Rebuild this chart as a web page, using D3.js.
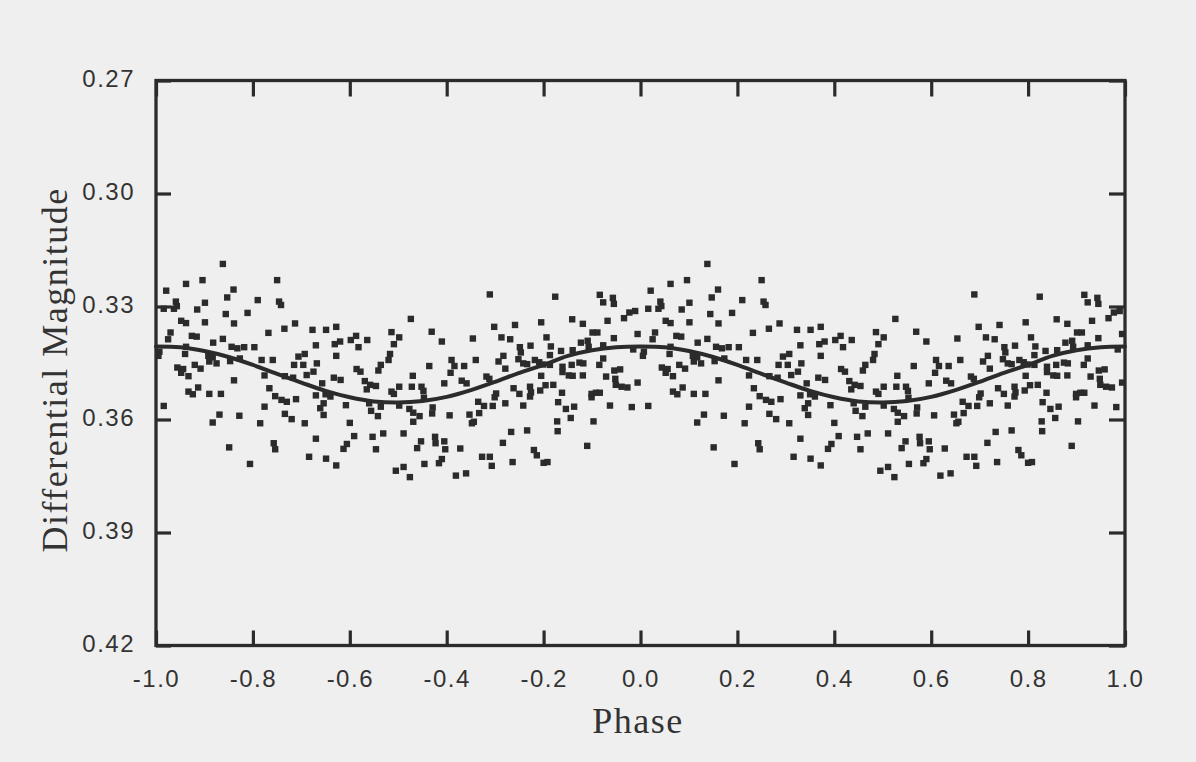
<!DOCTYPE html>
<html>
<head>
<meta charset="utf-8">
<script src="https://cdn.jsdelivr.net/npm/d3@7"></script>
<style>
body { margin: 0; background: #efefef; }
</style>
</head>
<body>
<div id="chart"></div>
<script>
// one cycle of the light curve, phase -1..0 (plotted twice, second copy shifted by +1)
const phase = [
-0.862,-0.938,-0.904,-0.750,-0.979,-0.840,-0.853,-0.899,-0.790,-0.746,-0.742,-0.959,-0.984,-0.963,-0.957,-0.915,
-0.856,-0.811,-0.948,-0.938,-0.899,-0.839,-0.713,-0.735,-0.677,-0.970,-0.768,-0.926,-0.916,-0.975,-0.862,-0.882,
-0.670,-0.844,-0.832,-0.818,-0.797,-0.938,-0.993,-0.995,-0.940,-0.892,-0.883,-0.890,-0.875,-0.847,-0.827,-0.782,
-0.759,-0.706,-0.693,-0.668,-0.956,-0.944,-0.948,-0.920,-0.908,-0.715,-0.696,-0.933,-0.776,-0.675,-0.689,-0.734,
-0.717,-0.839,-0.913,-0.766,-0.933,-0.924,-0.890,-0.866,-0.754,-0.741,-0.730,-0.711,-0.670,-0.984,-0.776,-0.869,
-0.828,-0.734,-0.720,-0.883,-0.785,-0.693,-0.670,-0.849,-0.757,-0.754,-0.684,-0.806,
-0.474,-0.649,-0.628,-0.514,-0.498,-0.431,-0.346,-0.410,-0.631,-0.620,-0.598,-0.587,-0.564,-0.582,-0.509,-0.628,
-0.517,-0.520,-0.390,-0.340,-0.536,-0.541,-0.436,-0.384,-0.364,-0.392,-0.586,-0.578,-0.633,-0.619,-0.470,-0.405,
-0.369,-0.359,-0.657,-0.569,-0.558,-0.546,-0.565,-0.498,-0.514,-0.509,-0.472,-0.452,-0.448,-0.447,-0.650,-0.640,
-0.654,-0.661,-0.654,-0.608,-0.560,-0.536,-0.498,-0.556,-0.542,-0.477,-0.469,-0.456,-0.469,-0.429,-0.430,-0.394,
-0.353,-0.348,-0.344,-0.600,-0.591,-0.553,-0.531,-0.489,-0.606,-0.613,-0.546,-0.453,-0.461,-0.424,-0.423,-0.405,
-0.403,-0.372,-0.649,-0.628,-0.410,-0.416,-0.446,-0.505,-0.489,-0.476,-0.381,-0.360,-0.335,
-0.311,-0.176,-0.084,-0.057,-0.077,-0.055,-0.302,-0.259,-0.205,-0.141,-0.119,-0.068,-0.034,-0.023,-0.011,-0.287,
-0.269,-0.194,-0.099,-0.089,-0.055,-0.006,-0.249,-0.227,-0.247,-0.185,-0.187,-0.164,-0.140,-0.123,-0.109,-0.107,
-0.077,-0.015,-0.283,-0.293,-0.279,-0.252,-0.242,-0.234,-0.218,-0.209,-0.201,-0.187,-0.161,-0.142,-0.126,-0.118,
-0.085,-0.077,-0.318,-0.312,-0.205,-0.161,-0.148,-0.140,-0.119,-0.071,-0.054,-0.042,-0.052,-0.051,-0.262,-0.298,
-0.301,-0.250,-0.228,-0.226,-0.228,-0.207,-0.196,-0.180,-0.162,-0.101,-0.092,-0.084,-0.101,-0.039,-0.027,-0.006,
-0.323,-0.305,-0.279,-0.242,-0.170,-0.154,-0.137,-0.063,-0.018,-0.333,-0.172,-0.144,-0.097,-0.171,-0.267,-0.234,
-0.284,-0.220,-0.214,-0.110,-0.327,-0.311,-0.307,-0.264,-0.200,-0.192
];
const mag = [
0.3187,0.3240,0.3230,0.3230,0.3258,0.3255,0.3276,0.3290,0.3283,0.3287,0.3296,0.3287,0.3306,0.3306,0.3299,0.3308,
0.3320,0.3317,0.3338,0.3344,0.3342,0.3345,0.3345,0.3359,0.3362,0.3369,0.3370,0.3378,0.3380,0.3387,0.3386,0.3396,
0.3403,0.3407,0.3411,0.3408,0.3408,0.3407,0.3420,0.3431,0.3426,0.3431,0.3435,0.3446,0.3451,0.3445,0.3438,0.3442,
0.3442,0.3433,0.3426,0.3451,0.3462,0.3466,0.3476,0.3455,0.3465,0.3455,0.3455,0.3485,0.3483,0.3473,0.3482,0.3485,
0.3489,0.3496,0.3515,0.3517,0.3526,0.3533,0.3532,0.3532,0.3538,0.3548,0.3553,0.3546,0.3536,0.3564,0.3566,0.3587,
0.3590,0.3585,0.3599,0.3608,0.3610,0.3610,0.3651,0.3674,0.3663,0.3679,0.3699,0.3718,
0.3333,0.3362,0.3354,0.3368,0.3382,0.3367,0.3385,0.3393,0.3400,0.3393,0.3389,0.3378,0.3389,0.3408,0.3400,0.3431,
0.3426,0.3442,0.3442,0.3442,0.3455,0.3470,0.3458,0.3458,0.3458,0.3476,0.3466,0.3473,0.3489,0.3495,0.3484,0.3504,
0.3497,0.3504,0.3504,0.3498,0.3508,0.3511,0.3520,0.3513,0.3526,0.3532,0.3513,0.3513,0.3524,0.3542,0.3533,0.3539,
0.3557,0.3570,0.3588,0.3562,0.3557,0.3566,0.3563,0.3577,0.3591,0.3572,0.3582,0.3591,0.3606,0.3568,0.3584,0.3589,
0.3587,0.3610,0.3606,0.3609,0.3644,0.3646,0.3637,0.3637,0.3665,0.3678,0.3679,0.3658,0.3676,0.3646,0.3663,0.3658,
0.3679,0.3677,0.3704,0.3722,0.3705,0.3716,0.3718,0.3736,0.3726,0.3753,0.3749,0.3743,0.3553,
0.3268,0.3274,0.3269,0.3277,0.3289,0.3293,0.3354,0.3349,0.3342,0.3334,0.3346,0.3338,0.3331,0.3316,0.3312,0.3382,
0.3387,0.3382,0.3369,0.3369,0.3384,0.3373,0.3408,0.3404,0.3422,0.3406,0.3429,0.3418,0.3416,0.3396,0.3391,0.3407,
0.3403,0.3414,0.3431,0.3446,0.3465,0.3440,0.3451,0.3453,0.3442,0.3448,0.3454,0.3455,0.3460,0.3455,0.3449,0.3451,
0.3455,0.3438,0.3486,0.3492,0.3484,0.3474,0.3483,0.3484,0.3483,0.3486,0.3470,0.3467,0.3492,0.3508,0.3517,0.3531,
0.3541,0.3532,0.3513,0.3528,0.3539,0.3523,0.3509,0.3508,0.3529,0.3532,0.3529,0.3529,0.3541,0.3513,0.3515,0.3502,
0.3564,0.3564,0.3557,0.3563,0.3554,0.3572,0.3566,0.3563,0.3567,0.3583,0.3605,0.3596,0.3605,0.3631,0.3633,0.3629,
0.3662,0.3681,0.3695,0.3670,0.3699,0.3699,0.3723,0.3713,0.3715,0.3713
];

// fitted curve, one cycle
const curvePhase = [-1.00,-0.95,-0.90,-0.85,-0.80,-0.75,-0.70,-0.65,-0.60,-0.55,-0.50,-0.45,-0.40,-0.35,-0.30,-0.25,-0.20,-0.15,-0.10,-0.05,0.00];
const curveMag = [0.3406,0.3408,0.3418,0.3434,0.3455,0.3479,0.3502,0.3524,0.3541,0.3552,0.3555,0.3551,0.3540,0.3522,0.3500,0.3476,0.3455,0.3431,0.3416,0.3408,0.3406];

const xTicks = [-1.0,-0.8,-0.6,-0.4,-0.2,0.0,0.2,0.4,0.6,0.8,1.0];
const xTickLabels = ["-1.0","-0.8","-0.6","-0.4","-0.2","0.0","0.2","0.4","0.6","0.8","1.0"];
const yTicks = [0.27,0.30,0.33,0.36,0.39,0.42];
const yTickLabels = ["0.27","0.30","0.33","0.36","0.39","0.42"];

const width = 1196, height = 762;
const plotLeft = 156, plotRight = 1125, plotTop = 80.5, plotBottom = 645.5;
const ink = "#2b2b2b";

const svg = d3.select("#chart").append("svg")
    .attr("width", width)
    .attr("height", height);

svg.append("rect").attr("width", width).attr("height", height).attr("fill", "#efefef");

const x = d3.scaleLinear().domain([-1, 1]).range([plotLeft, plotRight]);
const y = d3.scaleLinear().domain([0.27, 0.42]).range([plotTop, plotBottom]);

let points = [];
phase.forEach((p, i) => {
    points.push({p: p, m: mag[i]});
    points.push({p: p + 1, m: mag[i]});
});

let curve = curvePhase.map((p, i) => ({p: p, m: curveMag[i]}));
curvePhase.slice(1).forEach((p, i) => curve.push({p: p + 1, m: curveMag[i + 1]}));

svg.append("g")
    .selectAll("rect")
    .data(points)
    .join("rect")
    .attr("x", d => x(d.p) - 3.2)
    .attr("y", d => y(d.m) - 3.2)
    .attr("width", 6.4)
    .attr("height", 6.4)
    .attr("fill", ink);

svg.append("path")
    .datum(curve)
    .attr("fill", "none")
    .attr("stroke", ink)
    .attr("stroke-width", 4)
    .attr("stroke-linecap", "round")
    .attr("d", d3.line().x(d => x(d.p)).y(d => y(d.m)).curve(d3.curveCatmullRom));

// axes, ticks pointing inward
const tickFont = g => g.selectAll("text")
    .attr("fill", "#333")
    .style("font-family", "'Liberation Sans', Arial, sans-serif")
    .style("font-size", "24px")
    .style("letter-spacing", "1.5px");

const fmtX = d => xTickLabels[xTicks.indexOf(d)];
const fmtY = d => yTickLabels[yTicks.indexOf(d)];

svg.append("g")
    .attr("transform", `translate(0,${plotBottom})`)
    .call(d3.axisBottom(x).tickValues(xTicks).tickFormat(fmtX).tickSizeInner(-15).tickSizeOuter(0).tickPadding(24))
    .call(tickFont)
    .call(g => g.select(".domain").remove());

svg.append("g")
    .attr("transform", `translate(0,${plotTop})`)
    .call(d3.axisTop(x).tickValues(xTicks).tickFormat("").tickSizeInner(-16).tickSizeOuter(0))
    .call(g => g.select(".domain").remove());

svg.append("g")
    .attr("transform", `translate(${plotLeft},0)`)
    .call(d3.axisLeft(y).tickValues(yTicks).tickFormat(fmtY).tickSizeInner(-15).tickSizeOuter(0).tickPadding(21))
    .call(tickFont)
    .call(g => g.selectAll("text").attr("dy", "0.26em"))
    .call(g => g.select(".domain").remove());

svg.append("g")
    .attr("transform", `translate(${plotRight},0)`)
    .call(d3.axisRight(y).tickValues(yTicks).tickFormat("").tickSizeInner(-16).tickSizeOuter(0))
    .call(g => g.select(".domain").remove());

svg.selectAll(".tick line").attr("stroke", ink).attr("stroke-width", 3.2);

svg.append("rect")
    .attr("x", plotLeft).attr("y", plotTop)
    .attr("width", plotRight - plotLeft).attr("height", plotBottom - plotTop)
    .attr("fill", "none")
    .attr("stroke", ink)
    .attr("stroke-width", 3.3);

// axis titles
svg.append("text")
    .attr("x", 638)
    .attr("y", 733)
    .attr("text-anchor", "middle")
    .attr("fill", "#333")
    .style("font-family", "'Liberation Serif', 'Times New Roman', serif")
    .style("font-size", "36px")
    .style("letter-spacing", "1.5px")
    .text("Phase");

svg.append("text")
    .attr("transform", "translate(67,370) rotate(-90)")
    .attr("text-anchor", "middle")
    .attr("fill", "#333")
    .style("font-family", "'Liberation Serif', 'Times New Roman', serif")
    .style("font-size", "36px")
    .style("letter-spacing", "1.5px")
    .text("Differential Magnitude");
</script>
</body>
</html>
